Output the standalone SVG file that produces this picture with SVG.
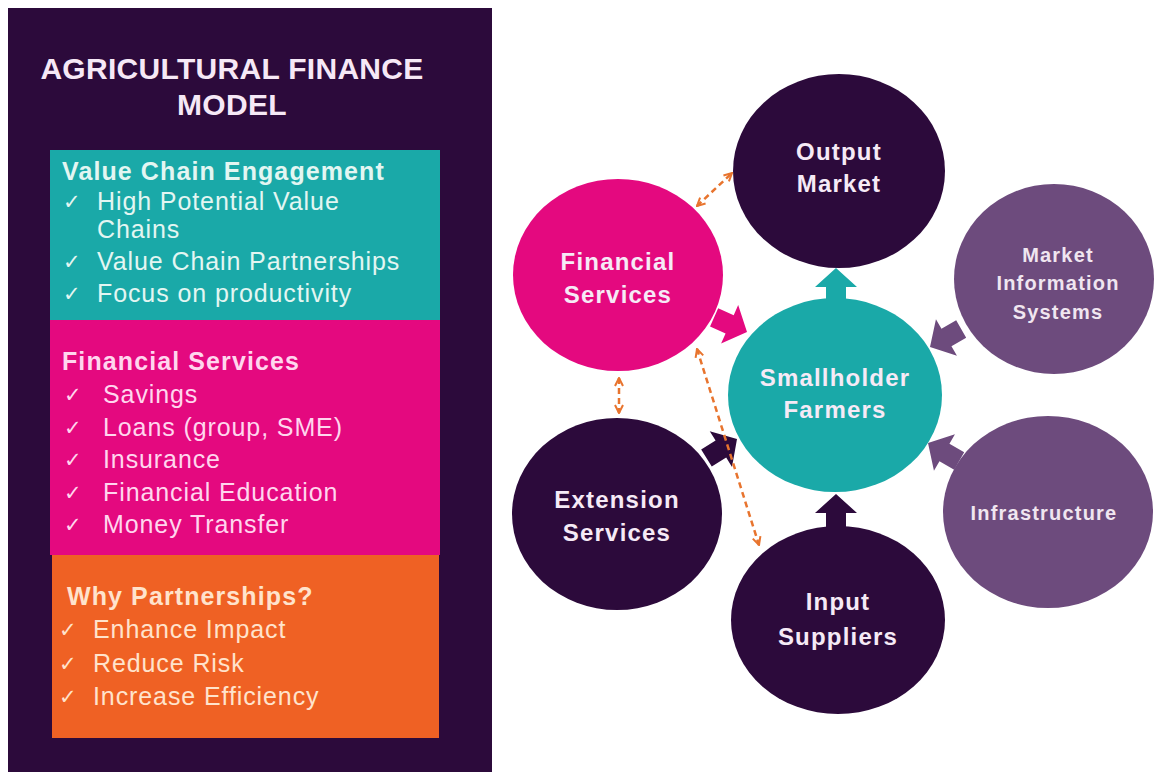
<svg xmlns="http://www.w3.org/2000/svg" width="1158" height="772" viewBox="0 0 1158 772">
<defs>
<style>
.t{font-family:"Liberation Sans","DejaVu Sans",sans-serif}
.title{font-size:30px;fill:#f6e8f6;font-weight:bold;letter-spacing:0.3px}
.h{font-size:25px;font-weight:bold;letter-spacing:1.1px}
.i{font-size:25px;letter-spacing:0.9px}
.ck{font-family:"DejaVu Sans",sans-serif;font-size:21px}
.teal{fill:#e3f6f2}
.pink{fill:#ffd6ee}
.org{fill:#ffe3cc}
.nl{font-size:24px;font-weight:bold;fill:#f6eaf6;letter-spacing:1.2px;text-anchor:middle}
.ns{font-size:20px;font-weight:bold;fill:#f0e6f0;letter-spacing:1.2px;text-anchor:middle}
.dash{stroke:#e8742e;stroke-width:2.5;stroke-dasharray:6 4;fill:none;marker-start:url(#ah);marker-end:url(#ah)}
</style>
<marker id="ah" viewBox="0 0 10 10" refX="9" refY="5" markerWidth="4" markerHeight="4" orient="auto-start-reverse" markerUnits="strokeWidth">
<path d="M1,1 L9,5 L1,9" fill="none" stroke="#e8742e" stroke-width="2"/>
</marker>
<path id="blk" d="M-36,-10 L-19,-10 L-19,-21 L0,0 L-19,21 L-19,10 L-36,10 Z"/>
</defs>
<rect width="1158" height="772" fill="#ffffff"/>

<g id="panel">
<rect x="8" y="8" width="484" height="764" fill="#2c0a3b"/>
<text class="t title" x="232" y="79" text-anchor="middle">AGRICULTURAL FINANCE</text>
<text class="t title" x="232" y="115" text-anchor="middle">MODEL</text>
</g>

<g id="value-chain">
<rect x="50" y="150" width="390" height="170" fill="#1aa9a8"/>
<text class="t h teal" x="62" y="180">Value Chain Engagement</text>
<text class="ck teal" x="63" y="209">✓</text>
<text class="t i teal" x="97" y="210">High Potential Value</text>
<text class="t i teal" x="97" y="238">Chains</text>
<text class="ck teal" x="63" y="269">✓</text>
<text class="t i teal" x="97" y="270">Value Chain Partnerships</text>
<text class="ck teal" x="63" y="301">✓</text>
<text class="t i teal" x="97" y="302">Focus on productivity</text>
</g>

<g id="financial-list">
<rect x="50" y="320" width="390" height="235" fill="#e4097f"/>
<text class="t h pink" x="62" y="370">Financial Services</text>
<text class="ck pink" x="64" y="402">✓</text>
<text class="t i pink" x="103" y="403">Savings</text>
<text class="ck pink" x="64" y="435">✓</text>
<text class="t i pink" x="103" y="436">Loans (group, SME)</text>
<text class="ck pink" x="64" y="467">✓</text>
<text class="t i pink" x="103" y="468">Insurance</text>
<text class="ck pink" x="64" y="500">✓</text>
<text class="t i pink" x="103" y="501">Financial Education</text>
<text class="ck pink" x="64" y="532">✓</text>
<text class="t i pink" x="103" y="533">Money Transfer</text>
</g>

<g id="partnerships">
<rect x="52" y="555" width="387" height="183" fill="#ef6124"/>
<text class="t h org" x="67" y="605">Why Partnerships?</text>
<text class="ck org" x="59" y="637">✓</text>
<text class="t i org" x="93" y="638">Enhance Impact</text>
<text class="ck org" x="59" y="671">✓</text>
<text class="t i org" x="93" y="672">Reduce Risk</text>
<text class="ck org" x="59" y="704">✓</text>
<text class="t i org" x="93" y="705">Increase Efficiency</text>
</g>

<g id="output-market">
<ellipse cx="839" cy="171" rx="106" ry="97" fill="#2c0a3b"/>
<text class="t nl" x="839" y="160">Output</text>
<text class="t nl" x="839" y="192">Market</text>
</g>

<g id="financial-services">
<ellipse cx="618" cy="275" rx="105" ry="96" fill="#e4097f"/>
<text class="t nl" x="618" y="270">Financial</text>
<text class="t nl" x="618" y="303">Services</text>
</g>

<g id="smallholder">
<ellipse cx="835" cy="395" rx="107" ry="97" fill="#1aa9a8"/>
<text class="t nl" x="835" y="386">Smallholder</text>
<text class="t nl" x="835" y="418">Farmers</text>
</g>

<g id="extension">
<ellipse cx="617" cy="514" rx="105" ry="96" fill="#2c0a3b"/>
<text class="t nl" x="617" y="508">Extension</text>
<text class="t nl" x="617" y="541">Services</text>
</g>

<g id="input-suppliers">
<ellipse cx="838" cy="620" rx="107" ry="94" fill="#2c0a3b"/>
<text class="t nl" x="838" y="610">Input</text>
<text class="t nl" x="838" y="645">Suppliers</text>
</g>

<g id="market-info">
<ellipse cx="1054" cy="279" rx="100" ry="95" fill="#6d4b7d"/>
<text class="t ns" x="1058" y="262">Market</text>
<text class="t ns" x="1058" y="290">Information</text>
<text class="t ns" x="1058" y="319">Systems</text>
</g>

<g id="infrastructure">
<ellipse cx="1048" cy="512" rx="105" ry="96" fill="#6d4b7d"/>
<text class="t ns" x="1044" y="520">Infrastructure</text>
</g>

<g id="connectors">
<use href="#blk" transform="translate(836,268) rotate(-90)" fill="#1aa9a8"/>
<use href="#blk" transform="translate(747,332) rotate(24)" fill="#e4097f"/>
<use href="#blk" transform="translate(737,439) rotate(-32)" fill="#2c0a3b"/>
<use href="#blk" transform="translate(836,494) rotate(-90)" fill="#2c0a3b"/>
<use href="#blk" transform="translate(930,347) rotate(150)" fill="#6d4b7d"/>
<use href="#blk" transform="translate(928,443) rotate(-150)" fill="#6d4b7d"/>
<line class="dash" x1="697" y1="206" x2="732" y2="173"/>
<line class="dash" x1="619" y1="378" x2="619" y2="413"/>
<line class="dash" x1="697" y1="349" x2="759" y2="545"/>
</g>
</svg>
